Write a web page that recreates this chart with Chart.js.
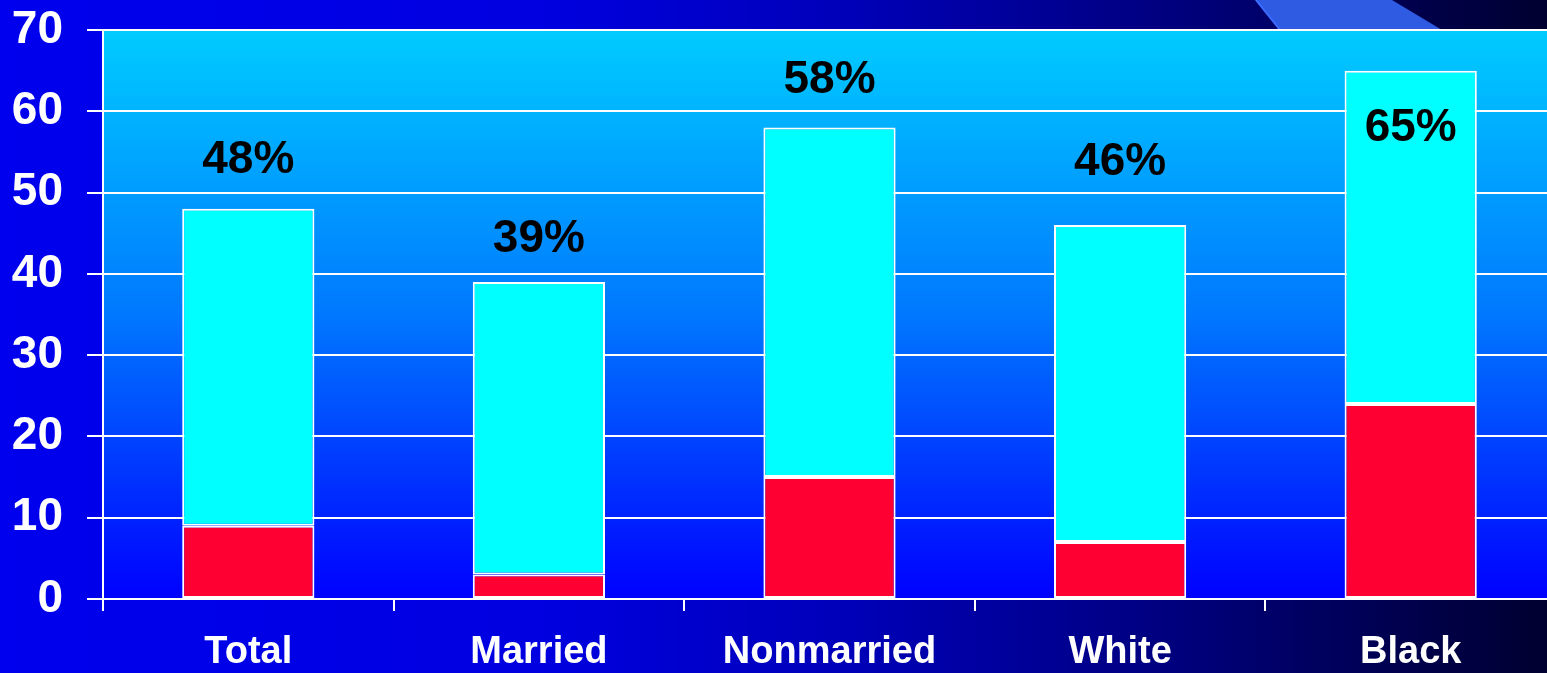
<!DOCTYPE html>
<html>
<head>
<meta charset="utf-8">
<script src="https://cdn.jsdelivr.net/npm/chart.js@4/dist/chart.umd.min.js"></script>
<style>
  html, body { margin: 0; padding: 0; overflow: hidden; background: #0000e0; }
  #wrap { width: 1547px; height: 673px; overflow: hidden; }
</style>
</head>
<body>
<div id="wrap"><canvas id="chart" width="1560" height="673"></canvas></div>
<script>
// values
const categories = ['Total', 'Married', 'Nonmarried', 'White', 'Black'];
const lowerPart = [9, 3, 15, 7, 24];
const totals = [48, 39, 58, 46, 65];
const yTicks = [0, 10, 20, 30, 40, 50, 60, 70];

// pixel offset of each % label above the bar top (negative = inside the bar)
const labelLift = [49, 43, 47, 63, -58];

const upperPart = totals.map((t, i) => t - lowerPart[i]);
const FONT = '"Liberation Sans", Arial, sans-serif';

// slide background, top-right decoration and the plot-area fill
const backdrop = {
  id: 'backdrop',
  beforeDraw(chart) {
    const { ctx, width, height, chartArea: a } = chart;
    ctx.save();
    const bg = ctx.createLinearGradient(0, 0, 1547, 0);
    bg.addColorStop(0, '#0000ee');
    bg.addColorStop(0.35, '#0000e0');
    bg.addColorStop(0.55, '#0000b8');
    bg.addColorStop(0.75, '#000080');
    bg.addColorStop(1, '#000030');
    ctx.fillStyle = bg;
    ctx.fillRect(0, 0, width, height);

    ctx.fillStyle = '#2f5be3';
    ctx.beginPath();
    ctx.moveTo(1255, 0);
    ctx.lineTo(1392, 0);
    ctx.lineTo(1442, a.top);
    ctx.lineTo(1280, a.top);
    ctx.closePath();
    ctx.fill();
    ctx.strokeStyle = '#3d6cff';
    ctx.lineWidth = 2;
    ctx.beginPath();
    ctx.moveTo(1256, 0);
    ctx.lineTo(1280, a.top);
    ctx.stroke();

    const pg = ctx.createLinearGradient(0, a.top, 0, a.bottom);
    pg.addColorStop(0, '#00ccff');
    pg.addColorStop(0.5, '#0078ff');
    pg.addColorStop(1, '#0000ff');
    ctx.fillStyle = pg;
    ctx.fillRect(a.left, a.top, a.right - a.left, a.bottom - a.top);
    ctx.restore();
  }
};

// percentage labels over each stack
const pctLabels = {
  id: 'pctLabels',
  afterDatasetsDraw(chart) {
    const { ctx } = chart;
    const x = chart.scales.x, y = chart.scales.y;
    ctx.save();
    ctx.font = 'bold 46px ' + FONT;
    ctx.fillStyle = '#000000';
    ctx.textAlign = 'center';
    ctx.textBaseline = 'middle';
    totals.forEach((t, i) => {
      ctx.fillText(t + '%', x.getPixelForValue(i), y.getPixelForValue(t) - labelLift[i]);
    });
    ctx.restore();
  }
};

new Chart(document.getElementById('chart'), {
  type: 'bar',
  data: {
    labels: categories,
    datasets: [
      {
        data: lowerPart,
        backgroundColor: '#ff0033',
        borderColor: '#ffffff',
        borderWidth: 2,
        borderSkipped: false
      },
      {
        data: upperPart,
        backgroundColor: '#00ffff',
        borderColor: '#ffffff',
        borderWidth: 2,
        borderSkipped: false
      }
    ]
  },
  options: {
    responsive: false,
    animation: false,
    layout: { padding: { left: 0, top: 0, right: 4, bottom: 0 } },
    plugins: { legend: { display: false }, tooltip: { enabled: false } },
    datasets: { bar: { barPercentage: 0.455, categoryPercentage: 1 } },
    scales: {
      x: {
        stacked: true,
        afterFit(scale) { scale.height = 74; },
        grid: { display: true, offset: true, drawOnChartArea: false, drawTicks: true, tickLength: 12, color: '#ffffff', lineWidth: 2 },
        border: { display: true, color: '#ffffff', width: 2 },
        ticks: { color: '#ffffff', padding: 19, font: { family: FONT, size: 38, weight: 'bold' } }
      },
      y: {
        stacked: true,
        min: 0,
        max: 70,
        afterBuildTicks(scale) { scale.ticks = yTicks.map(v => ({ value: v })); },
        afterFit(scale) {
          scale.width = 103;
          scale.paddingTop = 30;
          scale.paddingBottom = 0;
        },
        grid: { color: '#ffffff', lineWidth: 2, tickLength: 16 },
        border: { display: true, color: '#ffffff', width: 2 },
        ticks: { color: '#ffffff', padding: 24, font: { family: FONT, size: 46, weight: 'bold' } }
      }
    }
  },
  plugins: [backdrop, pctLabels]
});
</script>
</body>
</html>
